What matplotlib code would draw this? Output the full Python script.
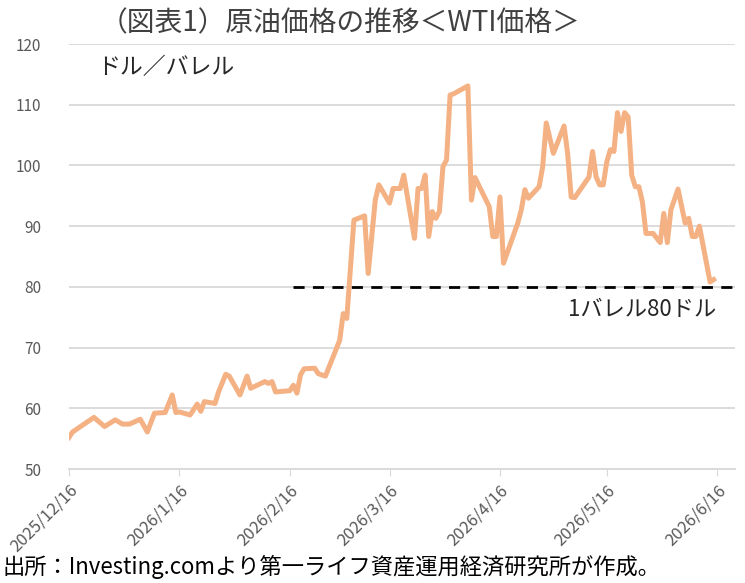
import matplotlib
matplotlib.use("Agg")
import matplotlib.pyplot as plt
import pandas as pd

plt.rcParams['font.family'] = ['Noto Sans CJK JP', 'DejaVu Sans']

# WTI price (USD/bbl)
dates = [
    "2025-12-16", "2025-12-17", "2025-12-23", "2025-12-26", "2025-12-29", "2025-12-31",
    "2026-01-02", "2026-01-05", "2026-01-07", "2026-01-09", "2026-01-12", "2026-01-14",
    "2026-01-15", "2026-01-16", "2026-01-19", "2026-01-21", "2026-01-22", "2026-01-23",
    "2026-01-26", "2026-01-27", "2026-01-29", "2026-01-30", "2026-02-02", "2026-02-04",
    "2026-02-05", "2026-02-09", "2026-02-10", "2026-02-11", "2026-02-12", "2026-02-16",
    "2026-02-17", "2026-02-18", "2026-02-19", "2026-02-20", "2026-02-23", "2026-02-24",
    "2026-02-26", "2026-03-02", "2026-03-03", "2026-03-04", "2026-03-06", "2026-03-09",
    "2026-03-10", "2026-03-12", "2026-03-13", "2026-03-16", "2026-03-17", "2026-03-19",
    "2026-03-20", "2026-03-23", "2026-03-24", "2026-03-25", "2026-03-26", "2026-03-27",
    "2026-03-28", "2026-03-29", "2026-03-30", "2026-03-31", "2026-04-01", "2026-04-02",
    "2026-04-03", "2026-04-07", "2026-04-08", "2026-04-09", "2026-04-13", "2026-04-14",
    "2026-04-15", "2026-04-16", "2026-04-17", "2026-04-21", "2026-04-22", "2026-04-23",
    "2026-04-24", "2026-04-27", "2026-04-28", "2026-04-29", "2026-05-01", "2026-05-04",
    "2026-05-05", "2026-05-06", "2026-05-07", "2026-05-11", "2026-05-12", "2026-05-13",
    "2026-05-14", "2026-05-15", "2026-05-16", "2026-05-17", "2026-05-18", "2026-05-19",
    "2026-05-20", "2026-05-21", "2026-05-22", "2026-05-23", "2026-05-24", "2026-05-25",
    "2026-05-26", "2026-05-27", "2026-05-29", "2026-05-31", "2026-06-01", "2026-06-02",
    "2026-06-03", "2026-06-05", "2026-06-07", "2026-06-08", "2026-06-09", "2026-06-10",
    "2026-06-11", "2026-06-14", "2026-06-15",
]
prices = [
    55.2, 56.1, 58.5, 57.0, 58.1, 57.4,
    57.4, 58.2, 56.1, 59.2, 59.3, 62.2,
    59.3, 59.4, 58.9, 60.7, 59.5, 61.1,
    60.8, 62.7, 65.6, 65.3, 62.2, 65.3,
    63.3, 64.4, 64.1, 64.4, 62.7, 62.9,
    63.8, 62.5, 65.5, 66.5, 66.6, 65.7,
    65.3, 71.2, 75.6, 74.8, 91.0, 91.7,
    82.2, 94.3, 96.8, 93.8, 96.2, 96.2,
    98.4, 88.0, 96.2, 96.2, 98.4, 88.3,
    92.4, 91.3, 92.4, 99.8, 100.9, 111.6,
    111.8, 113.1, 94.3, 98.0, 93.2, 88.3,
    88.3, 94.8, 83.9, 90.5, 92.7, 96.0,
    94.6, 96.5, 99.8, 107.0, 102.0, 106.5,
    102.0, 94.8, 94.7, 98.1, 102.3, 98.1,
    96.8, 96.8, 100.6, 102.6, 102.3, 108.7,
    105.6, 108.7, 108.0, 98.4, 96.5, 96.5,
    94.0, 88.8, 88.8, 87.3, 92.1, 87.3,
    92.7, 96.1, 90.5, 91.3, 88.3, 88.3,
    90.0, 80.8, 81.2,
]

tick_dates = ["2025-12-16", "2026-01-16", "2026-02-16", "2026-03-16",
              "2026-04-16", "2026-05-16", "2026-06-16"]
tick_labels = ["2025/12/16", "2026/1/16", "2026/2/16", "2026/3/16",
               "2026/4/16", "2026/5/16", "2026/6/16"]

ref_level = 80
ref_start = "2026-02-17"
ref_end = "2026-06-22"

x = pd.to_datetime(dates)

fig = plt.figure(figsize=(7.45, 5.83), dpi=100)
ax = fig.add_axes([0.0926, 0.1955, 0.894, 0.729])

ax.plot(x, prices, color='#F4B183', linewidth=3.6, solid_joinstyle='round', zorder=3)
ax.plot(pd.to_datetime([ref_start, ref_end]), [ref_level, ref_level],
        color='black', linestyle=(0, (4, 3)), linewidth=2.0, zorder=4, clip_on=False)

ax.set_ylim(50, 120)
ax.set_yticks(range(50, 121, 10))
ax.set_xlim(pd.Timestamp("2025-12-16"), pd.Timestamp("2026-06-21"))
ax.set_xticks(pd.to_datetime(tick_dates))
ax.set_xticklabels(tick_labels, rotation=45, ha='right', rotation_mode='anchor')

ax.grid(axis='y', color='#D9D9D9', linewidth=1.3)
ax.set_axisbelow(True)
for s in ['top', 'right', 'left']:
    ax.spines[s].set_visible(False)
ax.spines['bottom'].set_color('#D9D9D9')
ax.spines['bottom'].set_linewidth(1.3)
ax.tick_params(axis='y', length=0, labelsize=11, labelcolor='#595959', pad=20)
ax.tick_params(axis='x', length=5, color='#D9D9D9', labelsize=12,
               labelcolor='#595959', pad=4)

fig.text(0.457, 0.960, "（図表1）原油価格の推移＜WTI価格＞", ha='center', va='center',
         fontsize=20, color='#404040')
fig.text(0.13, 0.885, "ドル／バレル", ha='left', va='center', fontsize=16.5, color='#262626')
ax.text(pd.Timestamp("2026-05-26"), 76.3, "1バレル80ドル", ha='center', va='center',
        fontsize=16, color='#262626')
fig.text(0.003, 0.028, "出所：Investing.comより第一ライフ資産運用経済研究所が作成。",
         ha='left', va='center', fontsize=16, color='#000000')

fig.savefig("out.png", dpi=100)
